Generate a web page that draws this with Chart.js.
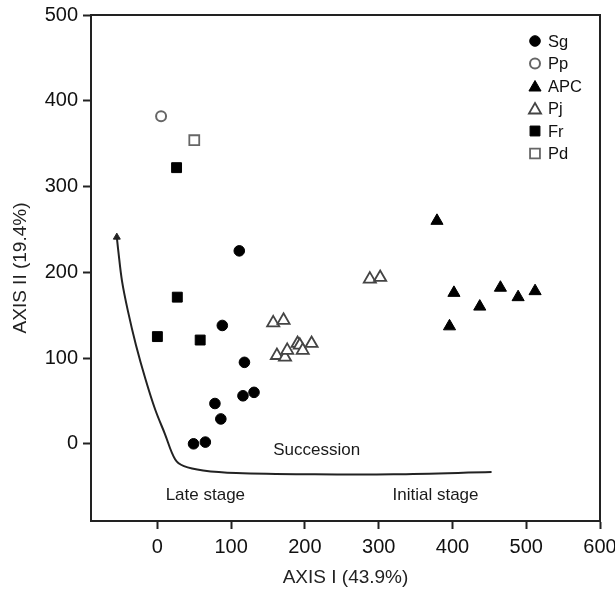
<!DOCTYPE html>
<html><head><meta charset="utf-8">
<script src="https://cdn.jsdelivr.net/npm/chart.js@4/dist/chart.umd.min.js"></script>
<style>html,body{margin:0;padding:0;background:#fff;}canvas{display:block;}</style>
</head><body>
<canvas id="c" width="615" height="595"></canvas>
<script>
// ---- data ----
const xTicks = [0, 100, 200, 300, 400, 500, 600];
const yTicks = [0, 100, 200, 300, 400, 500];

const seriesNames = ['Sg', 'Pp', 'APC', 'Pj', 'Fr', 'Pd'];

const sgX = [111, 88, 118, 116, 131, 78, 86, 49, 65];
const sgY = [225, 138, 95, 56, 60, 47, 29, 0, 2];

const ppX = [5];
const ppY = [382];

const apcX = [379, 396, 402, 437, 465, 489, 512];
const apcY = [260, 137, 176, 160, 182, 171, 178];

const pjX = [157, 171, 162, 173, 176, 190, 193, 197, 209, 288, 302];
const pjY = [141, 144, 103, 101, 109, 117, 115, 109, 117, 192, 194];

const frX = [26, 27, 0, 58];
const frY = [322, 171, 125, 121];

const pdX = [50];
const pdY = [354];

// succession curve (arrow tip first)
const curveX = [-55, -53, -48, -40, -29, -16, -3, 10, 24, 36, 62, 107, 213, 320, 453];
const curveY = [241, 225, 190, 155, 115, 75, 40, 12, -18, -26, -31, -34, -35.5, -35.5, -33];

// annotation labels (text and data-space anchor)
const noteText = ['Succession', 'Late stage', 'Initial stage'];
const noteX = [216, 65, 377];
const noteY = [-8, -60, -60];

const FONT = '"Liberation Sans", Arial, Helvetica, sans-serif';
const pts = (xs, ys) => xs.map((v, i) => ({x: v, y: ys[i]}));

const markerStyles = {
  Sg:  {pointStyle: 'circle',   radius: 5.3, bg: '#000', border: '#000', bw: 1},
  Pp:  {pointStyle: 'circle',   radius: 5,   bg: '#fff', border: '#666', bw: 2},
  APC: {pointStyle: 'triangle', radius: 7,   bg: '#000', border: '#000', bw: 1},
  Pj:  {pointStyle: 'triangle', radius: 7,   bg: '#fff', border: '#444', bw: 1.8},
  Fr:  {pointStyle: 'rect',     radius: 7,   bg: '#000', border: '#000', bw: 1},
  Pd:  {pointStyle: 'rect',     radius: 7,   bg: '#fff', border: '#666', bw: 1.8}
};
const seriesData = {
  Sg: pts(sgX, sgY), Pp: pts(ppX, ppY), APC: pts(apcX, apcY),
  Pj: pts(pjX, pjY), Fr: pts(frX, frY), Pd: pts(pdX, pdY)
};

const datasets = seriesNames.map(n => {
  const m = markerStyles[n];
  return {
    label: n, data: seriesData[n],
    pointStyle: m.pointStyle, pointRadius: m.radius,
    backgroundColor: m.bg, borderColor: m.border, borderWidth: m.bw,
    pointBackgroundColor: m.bg, pointBorderColor: m.border, pointBorderWidth: m.bw
  };
});
datasets.push({
  label: '_curve', data: pts(curveX, curveY), showLine: true, tension: 0.35,
  borderColor: '#222', borderWidth: 2, fill: false,
  pointStyle: 'triangle', pointRadius: curveX.map((v, i) => i === 0 ? 4 : 0),
  pointBackgroundColor: '#222', pointBorderColor: '#222', pointBorderWidth: 1
});

function drawMarker(ctx, style, x, y, r) {
  ctx.beginPath();
  if (style === 'circle') {
    ctx.arc(x, y, r, 0, Math.PI * 2);
  } else if (style === 'triangle') {
    let rad = 0;
    const T = Math.PI * 2 / 3;
    ctx.moveTo(x + Math.sin(rad) * r, y - Math.cos(rad) * r); rad += T;
    ctx.lineTo(x + Math.sin(rad) * r, y - Math.cos(rad) * r); rad += T;
    ctx.lineTo(x + Math.sin(rad) * r, y - Math.cos(rad) * r);
    ctx.closePath();
  } else {
    const s = r / Math.SQRT2;
    ctx.rect(x - s, y - s, 2 * s, 2 * s);
  }
  ctx.fill(); ctx.stroke();
}

const framePlugin = {
  id: 'frame',
  beforeDatasetsDraw(chart) {
    const {ctx, chartArea: a} = chart;
    ctx.save();
    ctx.strokeStyle = '#222'; ctx.lineWidth = 2;
    ctx.beginPath();
    ctx.moveTo(a.left, a.top); ctx.lineTo(a.right, a.top); ctx.lineTo(a.right, a.bottom);
    ctx.stroke();
    ctx.restore();
  },
  afterDatasetsDraw(chart) {
    const {ctx, chartArea: a, scales} = chart;
    ctx.save();
    // annotations
    ctx.fillStyle = '#1a1a1a';
    ctx.font = '17px ' + FONT;
    ctx.textAlign = 'center'; ctx.textBaseline = 'middle';
    noteText.forEach((t, i) => {
      ctx.fillText(t, scales.x.getPixelForValue(noteX[i]), scales.y.getPixelForValue(noteY[i]));
    });
    // legend
    const mx = a.right - 65, tx = a.right - 52;
    let y = a.top + 26;
    ctx.font = '16.5px ' + FONT;
    ctx.textAlign = 'left';
    seriesNames.forEach(n => {
      const m = markerStyles[n];
      ctx.fillStyle = m.bg; ctx.strokeStyle = m.border; ctx.lineWidth = m.bw;
      const off = m.pointStyle === 'triangle' ? 1.5 : 0;
      drawMarker(ctx, m.pointStyle, mx, y + off, m.radius);
      ctx.fillStyle = '#111';
      ctx.fillText(n, tx, y + 1);
      y += 22.5;
    });
    ctx.restore();
  }
};

new Chart(document.getElementById('c'), {
  type: 'scatter',
  data: {datasets},
  plugins: [framePlugin],
  options: {
    responsive: false, animation: false, devicePixelRatio: 1,
    layout: {padding: {left: 0, top: 15, right: 15, bottom: 0}},
    plugins: {legend: {display: false}, tooltip: {enabled: false}},
    scales: {
      x: {
        type: 'linear', min: -90, max: 600,
        afterBuildTicks: s => { s.ticks = xTicks.map(v => ({value: v})); },
        afterFit: s => { s.height = 74; s.paddingLeft = 0; s.paddingRight = 0; },
        grid: {drawOnChartArea: false, drawTicks: true, tickLength: 8, tickWidth: 2, tickColor: '#222'},
        border: {display: true, width: 2, color: '#222'},
        ticks: {padding: 6, color: '#111', font: {family: FONT, size: 20}, maxRotation: 0, autoSkip: false},
        title: {display: true, text: 'AXIS I (43.9%)', color: '#222', font: {family: FONT, size: 19}, padding: {top: 0, bottom: 6}}
      },
      y: {
        type: 'linear', min: -90, max: 500,
        afterBuildTicks: s => { s.ticks = yTicks.map(v => ({value: v})); },
        afterFit: s => { s.width = 91; s.paddingTop = 0; s.paddingBottom = 0; },
        grid: {drawOnChartArea: false, drawTicks: true, tickLength: 8, tickWidth: 2, tickColor: '#222'},
        border: {display: true, width: 2, color: '#222'},
        ticks: {padding: 5, color: '#111', font: {family: FONT, size: 20}, autoSkip: false},
        title: {display: true, text: 'AXIS II (19.4%)', color: '#222', font: {family: FONT, size: 19}, padding: {top: 9, bottom: 0}}
      }
    }
  }
});
</script>
</body></html>
